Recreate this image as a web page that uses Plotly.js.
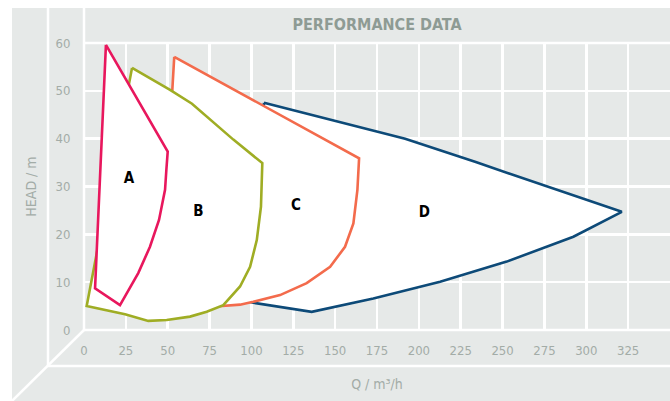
<!DOCTYPE html>
<html>
<head>
<meta charset="utf-8">
<script src="https://cdn.plot.ly/plotly-3.0.1.min.js"></script>
<style>html,body{margin:0;padding:0;background:#fff;}#chart{width:670px;height:401px;}</style>
</head>
<body>
<div id="chart"></div>
<script>
// ---- data ----
const xTicks = [0, 25, 50, 75, 100, 125, 150, 175, 200, 225, 250, 275, 300, 325];
const yTicks = [0, 10, 20, 30, 40, 50, 60];

const seriesNames = ['A', 'B', 'C', 'D'];

const qA = [13.1, 50.0, 49.2, 48.4, 44.8, 39.4, 32.4, 21.5, 6.6, 13.1];
const hA = [59.6, 37.3, 33.5, 29.3, 23.0, 17.4, 11.9, 5.2, 8.7, 59.6];

const qB = [28.7, 51.4, 64.5, 75.3, 89.2, 106.5, 105.7, 103.2, 99.2, 93.2, 83.2, 73.3, 63.3, 49.4, 38.4, 24.5, 9.6, 1.6, 28.7];
const hB = [54.8, 50.2, 47.3, 44.1, 39.8, 34.9, 25.8, 18.8, 13.2, 9.1, 5.2, 3.8, 2.8, 2.1, 1.9, 3.3, 4.4, 5.0, 54.8];

const qC = [53.9, 164.3, 163.3, 160.9, 155.9, 147.0, 133.0, 117.1, 101.1, 93.2, 78.3, 60.0, 45.0, 53.9];
const hC = [57.1, 35.9, 29.3, 22.3, 17.4, 13.2, 9.8, 7.3, 5.9, 5.3, 4.9, 4.2, 3.6, 57.1];

const qD = [107.5, 150.0, 191.8, 234.0, 276.4, 321.2, 292.3, 252.5, 212.7, 172.8, 136.0, 101.1, 95.0, 107.5];
const hD = [47.5, 43.8, 40.0, 35.1, 30.0, 24.7, 19.5, 14.3, 10.1, 6.6, 3.8, 5.7, 6.2, 47.5];

const labelQ = [26.9, 68.3, 126.6, 203.3];
const labelH = [31.6, 24.7, 25.8, 24.4];

// ---- styling ----
const FONT = "'Liberation Sans Narrow', 'DejaVu Sans Condensed', 'Roboto', sans-serif";
const BG = '#e6e9e8';
const TICK = '#a3aca7';
const colors = {A: '#e8175d', B: '#9fad24', C: '#f36b4c', D: '#0d4a78'};

function poly(q, h, color) {
  return {
    x: q, y: h, type: 'scatter', mode: 'lines',
    fill: 'toself', fillcolor: '#ffffff',
    line: {color: color, width: 2.6},
    hoverinfo: 'skip', showlegend: false
  };
}

const traces = [
  poly(qD, hD, colors.D),
  poly(qC, hC, colors.C),
  poly(qB, hB, colors.B),
  poly(qA, hA, colors.A),
  {
    x: labelQ, y: labelH, text: seriesNames, type: 'scatter', mode: 'text',
    textfont: {family: FONT, size: 15, color: '#000000', weight: 'bold'},
    hoverinfo: 'skip', showlegend: false
  }
];

// geometry helpers (pixel -> paper) for the "box" frame
const W = 670, H = 401, L = 84, R = 0, T = 43, B = 71;
const pw = W - L - R, ph = H - T - B;
const px = v => (v - L) / pw;
const py = v => (H - B - v) / ph;

const white = {color: '#ffffff', width: 2.5};
const shapes = [
  // white page margins (top & left)
  {type: 'rect', xref: 'paper', yref: 'paper', x0: -1, x1: 2, y0: py(8), y1: 3, fillcolor: '#ffffff', line: {width: 0}, layer: 'below'},
  {type: 'rect', xref: 'paper', yref: 'paper', x0: -2, x1: px(12), y0: -2, y1: 3, fillcolor: '#ffffff', line: {width: 0}, layer: 'below'},
  // frame lines
  {type: 'line', xref: 'paper', yref: 'paper', x0: 0, x1: 0, y0: 0, y1: py(8), line: white, layer: 'below'},
  {type: 'line', xref: 'paper', yref: 'paper', x0: px(48), x1: px(48), y0: py(366), y1: py(8), line: white, layer: 'below'},
  {type: 'line', xref: 'paper', yref: 'paper', x0: px(48), x1: 1.01, y0: py(366), y1: py(366), line: white, layer: 'below'},
  {type: 'line', xref: 'paper', yref: 'paper', x0: 0, x1: px(12), y0: 0, y1: py(401), line: white, layer: 'below'},
  {type: 'line', xref: 'paper', yref: 'paper', x0: 0, x1: 1.01, y0: 0, y1: 0, line: white, layer: 'below'},
  {type: 'line', xref: 'paper', yref: 'paper', x0: 0, x1: 1.01, y0: 1, y1: 1, line: white, layer: 'below'}
];

const layout = {
  width: W, height: H,
  margin: {l: L, r: R, t: T, b: B, pad: 0},
  paper_bgcolor: BG, plot_bgcolor: BG,
  font: {family: FONT, color: TICK},
  title: {
    text: 'PERFORMANCE DATA',
    x: 0.5, xref: 'paper', xanchor: 'center',
    y: 1 - 24 / H, yref: 'container', yanchor: 'middle',
    font: {family: FONT, size: 16, color: '#8e9b94', weight: 'bold'}
  },
  xaxis: {
    range: [0, 350], tickvals: xTicks, showgrid: true, gridcolor: '#ffffff', gridwidth: 2.5,
    zeroline: false, showline: false, ticks: 'outside', ticklen: 8, tickcolor: 'rgba(0,0,0,0)',
    tickfont: {family: FONT, size: 13, color: TICK},
    title: {text: 'Q / m³/h', standoff: 22, font: {family: FONT, size: 14, color: TICK}},
    fixedrange: true
  },
  yaxis: {
    range: [0, 60], tickvals: yTicks, showgrid: true, gridcolor: '#ffffff', gridwidth: 2.5,
    zeroline: false, showline: false, ticks: 'outside', ticklen: 10, tickcolor: 'rgba(0,0,0,0)',
    tickfont: {family: FONT, size: 13, color: TICK},
    title: {text: 'HEAD / m', standoff: 15, font: {family: FONT, size: 14, color: TICK}},
    fixedrange: true
  },
  shapes: shapes,
  showlegend: false
};

Plotly.newPlot('chart', traces, layout, {displayModeBar: false, staticPlot: true});
</script>
</body>
</html>
